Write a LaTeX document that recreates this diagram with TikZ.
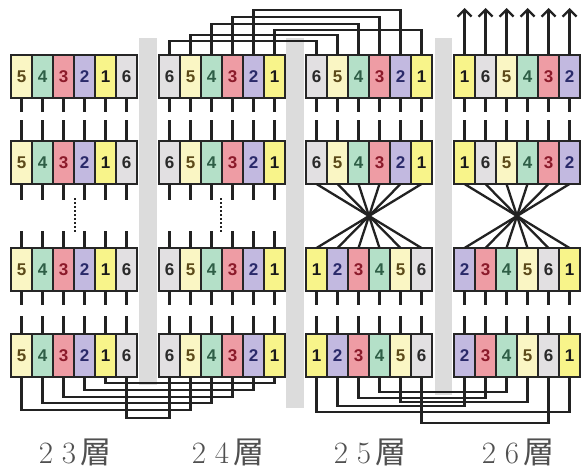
\documentclass[tikz,border=0pt]{standalone}
\usepackage{fontspec}
\newfontfamily\cjk{Noto Sans CJK JP}
\newfontfamily\cellfont{Liberation Sans}
\usetikzlibrary{arrows.meta}
\definecolor{cf1}{HTML}{F8F48A}
\definecolor{cf2}{HTML}{C2B9E0}
\definecolor{cf3}{HTML}{EE9CA4}
\definecolor{cf4}{HTML}{B4E0C8}
\definecolor{cf5}{HTML}{FAF6C4}
\definecolor{cf6}{HTML}{E2E0E2}
\definecolor{dc1}{HTML}{1A1A1A}
\definecolor{dc2}{HTML}{2A2A6A}
\definecolor{dc3}{HTML}{8B1A2A}
\definecolor{dc4}{HTML}{2E5E46}
\definecolor{dc5}{HTML}{5C4A1A}
\definecolor{dc6}{HTML}{2A2A2A}
\definecolor{wirec}{HTML}{222222}
\definecolor{barc}{HTML}{DCDCDC}
\definecolor{labc}{HTML}{505050}
\tikzset{
  cellbox/.style={draw=black!85, line width=2.4pt, minimum width=21pt, minimum height=43pt,
    inner sep=0pt, outer sep=0pt, font=\cellfont\bfseries\fontsize{17}{17}\selectfont},
  blockframe/.style={draw=black!85, line width=2.6pt},
  wire/.style={draw=wirec, line width=2.3pt},
  stub/.style={draw=wirec, line width=3pt},
  dots/.style={draw=wirec, line width=2.8pt, dash pattern=on 2pt off 2pt},
  upwire/.style={draw=wirec, line width=2.3pt, -{Straight Barb[length=7pt,width=14pt]}},
  bar/.style={fill=barc, draw=none},
  floorlabel/.style={text=labc, font=\fontsize{31}{31}\selectfont, inner sep=0pt}
}
\newcommand\mkblock[4]{%
  \foreach \d [count=\i from 0] in {#4} {
    \node[cellbox, fill=cf\d, text=dc\d] (#1n\d) at ({#2+10.5+21*\i},{#3+21.5}) {\d};
  }
  \draw[blockframe] (#2,#3) rectangle ++(126,43);
}
\begin{document}
\begin{tikzpicture}[x=1pt,y=-1pt]
\useasboundingbox (0,0) rectangle (583,468);
% grey bars
\fill[bar] (139,38) rectangle (157,385);
\fill[bar] (286,38) rectangle (304,408);
\fill[bar] (435,38) rectangle (452,395);
% blocks
\foreach \r/\y in {1/55,2/141,3/248,4/334} {
  \mkblock{b23r\r}{11}{\y}{5,4,3,2,1,6}
  \mkblock{b24r\r}{159}{\y}{6,5,4,3,2,1}
}
\foreach \r/\y in {1/55,2/141} {
  \mkblock{b25r\r}{306}{\y}{6,5,4,3,2,1}
  \mkblock{b26r\r}{454}{\y}{1,6,5,4,3,2}
}
\foreach \r/\y in {3/248,4/334} {
  \mkblock{b25r\r}{306}{\y}{1,2,3,4,5,6}
  \mkblock{b26r\r}{454}{\y}{2,3,4,5,6,1}
}
% stubs
\foreach \c in {23,24,25,26} {
  \foreach \d in {1,...,6} {
    \draw[stub] (b\c r1n\d.south) -- ++(0,14);
    \draw[stub] (b\c r2n\d.north) -- ++(0,-21);
    \draw[stub] (b\c r3n\d.south) -- ++(0,14);
    \draw[stub] (b\c r4n\d.north) -- ++(0,-18);
  }
}
\foreach \c in {23,24} {
  \foreach \d in {1,...,6} {
    \draw[stub] (b\c r2n\d.south) -- ++(0,16);
    \draw[stub] (b\c r3n\d.north) -- ++(0,-17);
  }
}
% dotted continuation
\coordinate (d23a) at (75,198); \coordinate (d23b) at (75,232);
\coordinate (d24a) at (221,198); \coordinate (d24b) at (221,232);
\draw[dots] (d23a) -- (d23b);
\draw[dots] (d24a) -- (d24b);
% crossings
\foreach \c in {25,26} {
  \foreach \d in {1,...,6} {
    \draw[wire] (b\c r2n\d.south) -- (b\c r3n\d.north);
  }
}
% top connections 24 -> 25
\foreach \d/\lv in {1/30,2/10,3/17,4/24,5/35,6/41} {
  \draw[wire] (b24r1n\d.north) -- (b24r1n\d.north |- 0,\lv) -- (b25r1n\d.north |- 0,\lv) -- (b25r1n\d.north);
}
% bottom connections 23 <-> 24
\foreach \d/\lv in {1/383,2/390,3/397,4/403,5/410,6/418} {
  \draw[wire] (b23r4n\d.south) -- (b23r4n\d.south |- 0,\lv) -- (b24r4n\d.south |- 0,\lv) -- (b24r4n\d.south);
}
% bottom connections 25 <-> 26
\foreach \d/\lv in {1/412,2/406,3/398,4/392,5/402,6/423} {
  \draw[wire] (b25r4n\d.south) -- (b25r4n\d.south |- 0,\lv) -- (b26r4n\d.south |- 0,\lv) -- (b26r4n\d.south);
}
% outputs
\foreach \d in {1,...,6} {
  \draw[upwire] (b26r1n\d.north) -- ++(0,-47);
}
% labels
\node[floorlabel] (l23) at (73,452) {\makebox[23pt]{2}\makebox[23pt]{3}{\cjk 層}};
\node[floorlabel] (l24) at (226,452) {\makebox[23pt]{2}\makebox[23pt]{4}{\cjk 層}};
\node[floorlabel] (l25) at (368,452) {\makebox[23pt]{2}\makebox[23pt]{5}{\cjk 層}};
\node[floorlabel] (l26) at (516,452) {\makebox[23pt]{2}\makebox[23pt]{6}{\cjk 層}};
\end{tikzpicture}
\end{document}
